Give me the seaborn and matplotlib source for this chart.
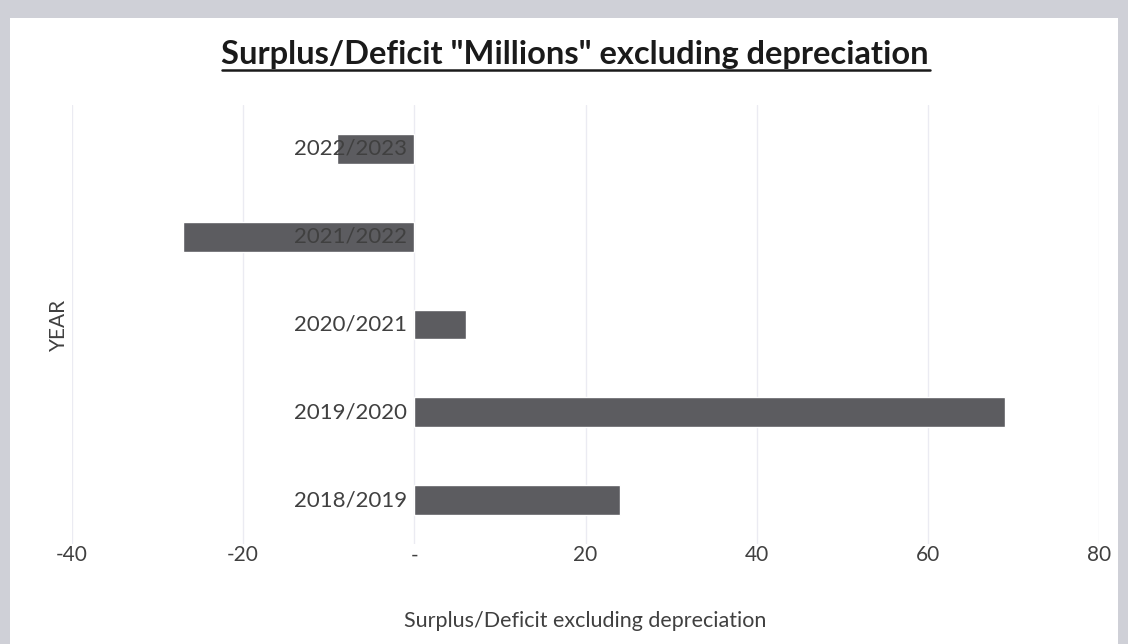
import pandas as pd
import seaborn as sns
import matplotlib.pyplot as plt
from matplotlib.patches import Rectangle

# data (millions)
years = ["2022/2023", "2021/2022", "2020/2021", "2019/2020", "2018/2019"]
surplus = [-9, -27, 6, 69, 24]
x_ticks = [-40, -20, 0, 20, 40, 60, 80]
x_tick_labels = ["-40", "-20", "-", "20", "40", "60", "80"]

df = pd.DataFrame({"year": years, "value": surplus})

sns.set_style("white")
plt.rcParams["font.family"] = ["Lato", "DejaVu Sans"]
text_col = "#404040"

fig = plt.figure(figsize=(11.28, 6.44), dpi=100)
fig.patch.set_facecolor("#cfd0d7")
# white card of the scanned chart
fig.add_artist(Rectangle((10 / 1128, 0), 1108 / 1128, 626 / 644,
                         transform=fig.transFigure, facecolor="white",
                         edgecolor="none", zorder=0))

ax = fig.add_axes([72 / 1128, 100 / 644, 1027 / 1128, 439 / 644])
ax.set_facecolor("none")

sns.barplot(data=df, x="value", y="year", order=years, orient="h",
            color="#5c5c60", saturation=1, width=0.34, ax=ax, zorder=2)

ax.set_xlim(-40, 80)
ax.set_ylim(4.5, -0.5)
ax.set_xticks(x_ticks)
ax.set_xticklabels(x_tick_labels, fontsize=15, color=text_col)
ax.tick_params(axis="x", length=0, pad=1)
ax.set_yticks([])
ax.grid(axis="x", color="#ebebf2", linewidth=1, zorder=0)
for s in ax.spines.values():
    s.set_visible(False)

# category labels sit next to the zero line, like Excel does
for i, yr in enumerate(years):
    ax.annotate(yr, xy=(0, i), xytext=(-5, 0), textcoords="offset points",
                ha="right", va="center", fontsize=16, color=text_col, zorder=3)

ax.set_xlabel("Surplus/Deficit excluding depreciation", fontsize=15.5,
              color=text_col, labelpad=33)
ax.set_ylabel("YEAR", fontsize=15, color=text_col, labelpad=2)

fig.text(0.51, 0.915, 'Surplus/Deficit "Millions" excluding depreciation',
         ha="center", va="center", fontsize=23.5, fontweight="bold",
         color="#1a1a1a")
fig.add_artist(plt.Line2D([222 / 1128, 930 / 1128], [1 - 70 / 644, 1 - 70 / 644],
                          transform=fig.transFigure, color="#1a1a1a", linewidth=1.8))

fig.savefig("out.png", dpi=100, facecolor=fig.get_facecolor())
